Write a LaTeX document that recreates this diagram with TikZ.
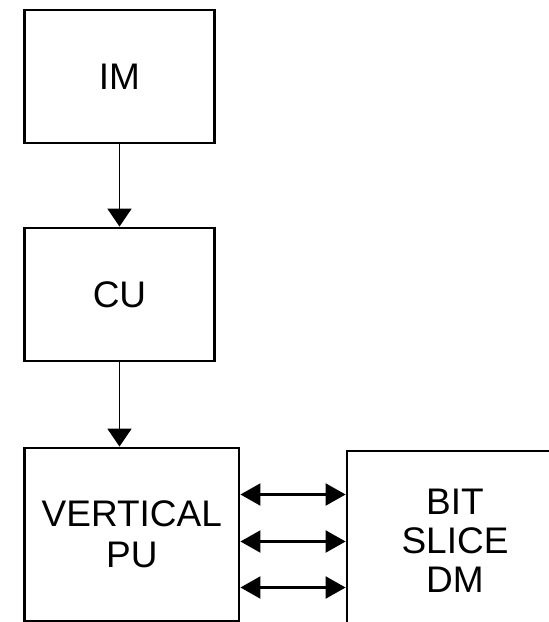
\documentclass[tikz,border=0pt]{standalone}
\usepackage{fontspec}
\setmainfont{Liberation Sans}
\usepackage{tikz}
\usetikzlibrary{arrows.meta}
\newcommand{\blk}[5]{%
  \node[blkbox,minimum width=#3,minimum height=#4] (#1) at #2 {#5};}
\newcommand{\dlink}[1]{%
  \draw[dbl] ([yshift=#1]pu.east) -- ([yshift=#1]pu.east -| dm.west);}

\begin{document}
\begin{tikzpicture}[x=0.5pt,y=-0.5pt,
  blkbox/.style={draw,line width=1.4pt,align=center,inner sep=0pt,
    font=\fontsize{18.5}{20.5}\selectfont},
  dn/.style={line width=0.9pt,-{Triangle[length=9pt,width=12pt]}},
  dbl/.style={line width=1.1pt,{Triangle[length=10pt,width=11pt]}-{Triangle[length=10pt,width=11pt]}}]
  \useasboundingbox (0,0) rectangle (549,622);
  \blk{im}{(119.5,76.5)}{94.75pt}{66.5pt}{IM}
  \blk{cu}{(119.5,294.5)}{94.75pt}{66.5pt}{CU}
  \blk{pu}{(131.8,534.5)}{107.25pt}{86.5pt}{VERTICAL\\PU}
  \blk{dm}{(455,545)}{108pt}{94pt}{\raisebox{5pt}{\begin{tabular}{@{}c@{}}BIT\\[-1pt]SLICE\\[-1pt]DM\end{tabular}}}
  \draw[dn] (im) -- (cu);
  \draw[dn] (cu.south -| im.south) -- (pu.north -| im.south);
  \dlink{20pt}
  \dlink{-3.5pt}
  \dlink{-26.5pt}
\end{tikzpicture}
\end{document}
